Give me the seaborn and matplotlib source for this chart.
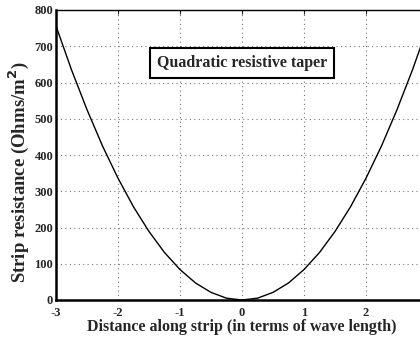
import matplotlib
matplotlib.use("Agg")
import matplotlib.pyplot as plt
import seaborn as sns
import pandas as pd

distance = [-3.0, -2.75, -2.5, -2.25, -2.0, -1.75, -1.5, -1.25, -1.0, -0.75, -0.5, -0.25,
            0.0, 0.25, 0.5, 0.75, 1.0, 1.25, 1.5, 1.75, 2.0, 2.25, 2.5, 2.75, 3.0]
resistance = [756, 635, 525, 425, 336, 257, 189, 131, 84, 47, 21, 5,
              0, 5, 21, 47, 84, 131, 189, 257, 336, 425, 525, 635, 756]
xticks = [-3, -2, -1, 0, 1, 2]
yticks = [0, 100, 200, 300, 400, 500, 600, 700, 800]

sns.set_style("white")
plt.rcParams['font.family'] = ['Liberation Serif', 'DejaVu Serif']

df = pd.DataFrame({"x": distance, "y": resistance})
fig = plt.figure(figsize=(4.2, 3.39), dpi=100)
ax = fig.add_axes([56/420, 39/339, 372/420, 290/339])
sns.lineplot(data=df, x="x", y="y", ax=ax, color="black", linewidth=1.0, sort=False)

ax.set_xlim(-3, 3)
ax.set_ylim(0, 800)
ax.set_xticks(xticks)
ax.set_yticks(yticks)
ax.set_xticklabels([str(t) for t in xticks], fontsize=9, fontweight="bold")
ax.set_yticklabels([str(t) for t in yticks], fontsize=9, fontweight="bold")
ax.grid(True, color="#777777", linestyle=(0, (1, 3)), linewidth=0.8)
ax.tick_params(direction="in", length=3, width=0.8, top=True, right=True)
ax.tick_params(axis="x", pad=5)
ax.tick_params(axis="y", pad=2)
for s in ["left", "bottom"]:
    ax.spines[s].set_linewidth(1.8)
ax.spines["top"].set_linewidth(1.0)
for s in ax.spines.values():
    s.set_color("black")
ax.set_xlabel("Distance along strip (in terms of wave length)", fontsize=11.5, fontweight="bold", labelpad=0)
ax.set_ylabel("Strip resistance (Ohms/m$^\\mathbf{2}$)", fontsize=13.5, fontweight="bold")
ax.yaxis.set_label_coords(-0.068, 0.44)
ax.text(0, 654, "Quadratic resistive taper", ha="center", va="center", fontsize=11.5, fontweight="bold",
        bbox=dict(boxstyle="square,pad=0.45", facecolor="white", edgecolor="black", linewidth=1.5))

fig.savefig("out.png", dpi=100)
